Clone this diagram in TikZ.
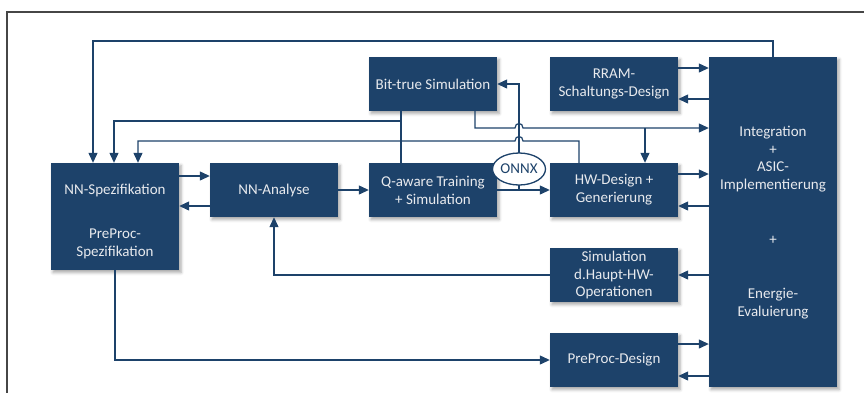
\documentclass[tikz,border=0pt]{standalone}
\usepackage{fontspec}
\setmainfont{Carlito}
\usetikzlibrary{arrows.meta,shapes.geometric,shadows.blur}
\definecolor{navy}{RGB}{29,66,106}
\definecolor{boxtext}{RGB}{232,234,238}
\definecolor{framegray}{RGB}{70,70,70}
\tikzset{
  blockbox/.style={draw=none, fill=navy, minimum width=128pt, minimum height=54pt,
    blur shadow={shadow xshift=2pt, shadow yshift=-2.5pt, shadow blur radius=3pt, shadow opacity=35}},
  blocktext/.style={text=boxtext, align=center, inner sep=0pt,
    font=\fontsize{15}{17.8}\selectfont},
  link/.style={draw=navy, line width=1.2pt},
  arr/.style={link, -{Triangle[length=10pt,width=9pt]}},
}
\begin{document}
\begin{tikzpicture}[x=1pt,y=-1pt]
\useasboundingbox (0,0) rectangle (864,392);
% outer frame (continues past the page edges)
\draw[framegray, line width=1.3pt] (7,400) -- (7,12) -- (880,12);

% blocks
\node[blockbox, minimum height=107pt] (spec) at (115,216.5) {};
\node[blocktext] (specA) at (115,190) {NN-Spezifikation};
\node[blocktext] (specB) at (115,243.5) {PreProc-\\Spezifikation};
\node[blockbox] (ana) at (274,190) {};
\node[blocktext] at (ana) {NN-Analyse};
\node[blockbox] (qat) at (433,190) {};
\node[blocktext] at (qat) {Q-aware Training\\+ Simulation};
\node[blockbox] (bit) at (433,84) {};
\node[blocktext] at (bit) {Bit-true Simulation};
\node[blockbox] (rram) at (614,84) {};
\node[blocktext] at (rram) {RRAM-\\Schaltungs-Design};
\node[blockbox] (hw) at (614,190) {};
\node[blocktext] at (hw) {HW-Design +\\Generierung};
\node[blockbox] (simh) at (614,275) {};
\node[blocktext] at (simh) {Simulation\\d.Haupt-HW-\\Operationen};
\node[blockbox] (ppd) at (614,360) {};
\node[blocktext] at (ppd) {PreProc-Design};
\node[blockbox, minimum height=330pt] (integ) at (773,222) {};
\node[blocktext] (integA) at (773,159) {Integration\\+\\ASIC-\\Implementierung};
\node[blocktext] (integB) at (773,240) {+};
\node[blocktext] (integC) at (773,303.5) {Energie-\\Evaluierung};

% junction points
\coordinate (jbit) at (401,121);
\coordinate (jint) at (645,128);

% left chain
\draw[arr] (spec.east |- 0,176) -- (ana.west |- 0,176);
\draw[arr] (ana.west |- 0,206) -- (spec.east |- 0,206);
\draw[arr] (ana.east |- 0,190) -- (qat.west |- 0,190);
\draw[arr] (qat.east |- 0,190) -- (hw.west |- 0,190);

% feedback lines into NN-Spezifikation
\draw[arr] (integ.north) -- (773,41) -| (spec.north -| 93,0);
\draw[link] (bit.south -| jbit) -- (qat.north -| jbit);
\draw[arr] (jbit) -| (spec.north -| 114,0);
\draw[arr] (hw.north -| 579,0) -- (579,141) -- (523,141)
  .. controls (523,135) and (515,135) .. (515,141) -- (138,141) -- (spec.north -| 138,0);

% Bit-true -> Integration, branch to HW-Design
\draw[arr] (bit.south -| 475,0) -- (475,128) -- (515,128)
  .. controls (515,122) and (523,122) .. (523,128) -- (integ.west |- 0,128);
\draw[arr] (jint) -- (hw.north -| jint);

% ONNX export back to bit-true simulation
\draw[arr] (519,190) -- (519,84) -- (bit.east |- 0,84);
\node[draw=navy, fill=white, line width=1.3pt, ellipse, minimum width=53pt, minimum height=32pt,
  inner sep=0pt, text=navy, font=\fontsize{15}{17}\selectfont] (onnx) at (519,169) {ONNX};

% right column exchanges
\draw[arr] (rram.east |- 0,68) -- (integ.west |- 0,68);
\draw[arr] (integ.west |- 0,99) -- (rram.east |- 0,99);
\draw[arr] (hw.east |- 0,174) -- (integ.west |- 0,174);
\draw[arr] (integ.west |- 0,206) -- (hw.east |- 0,206);
\draw[arr] (integ.west |- 0,275) -- (simh.east |- 0,275);
\draw[arr] (simh.west |- 0,275) -| (ana.south);
\draw[arr] (ppd.east |- 0,344) -- (integ.west |- 0,344);
\draw[arr] (integ.west |- 0,376) -- (ppd.east |- 0,376);

% PreProc specification -> PreProc design
\draw[arr] (spec.south) |- (ppd.west |- 0,360);
\end{tikzpicture}
\end{document}
